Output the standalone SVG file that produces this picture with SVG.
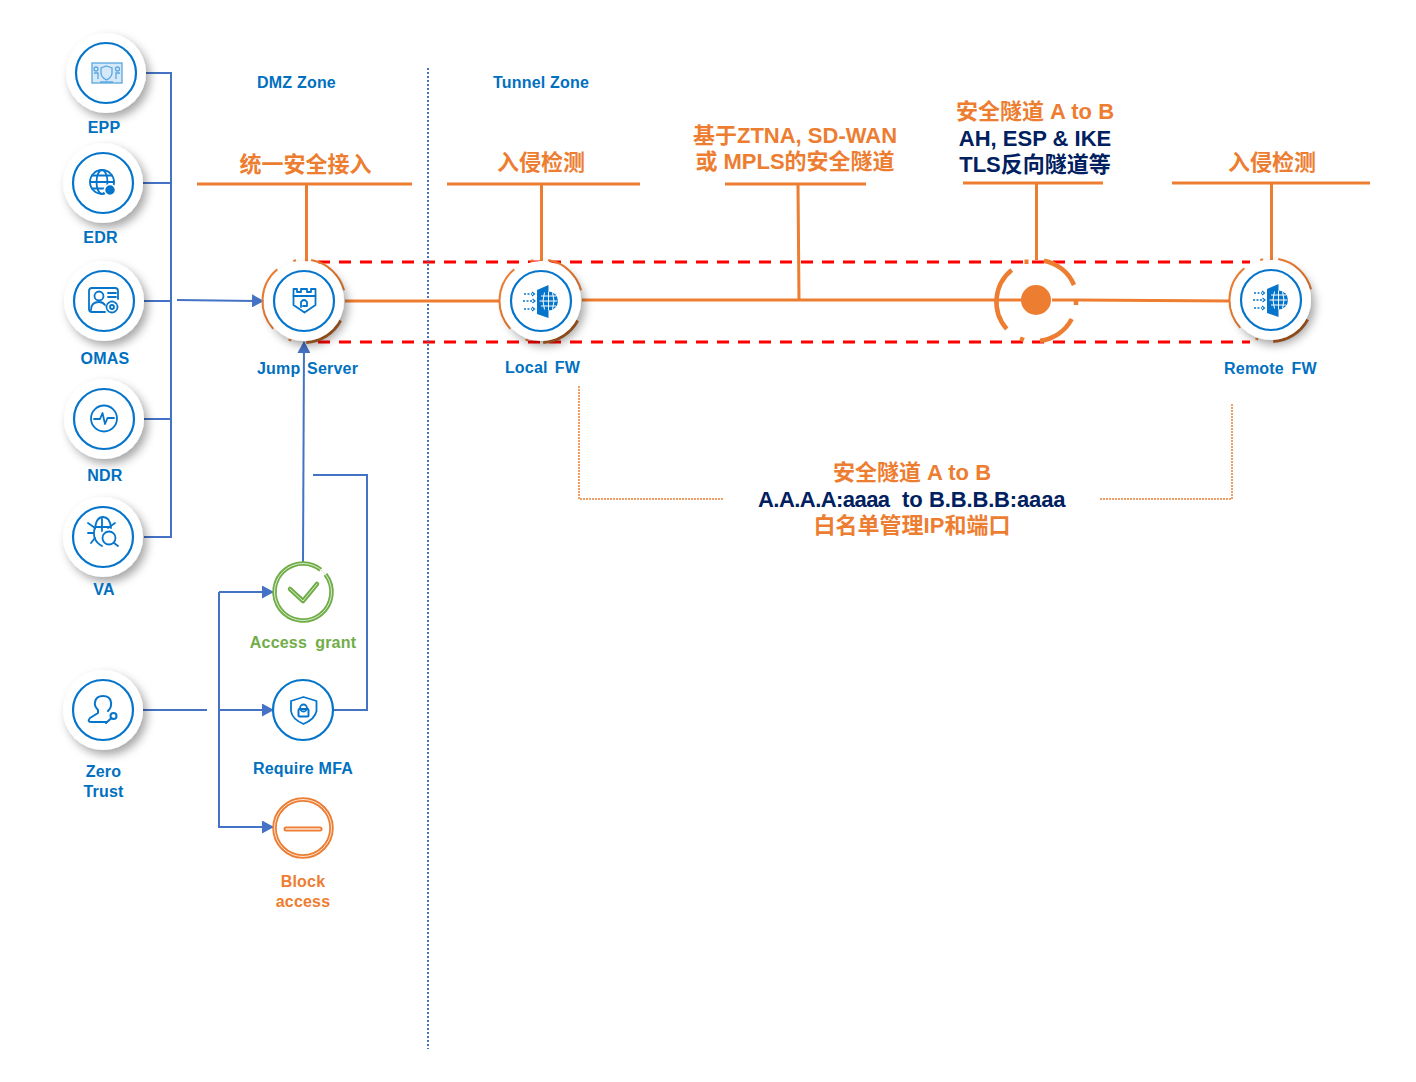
<svg xmlns="http://www.w3.org/2000/svg" width="1416" height="1082" viewBox="0 0 1416 1082">
<style>
text{font-family:"Liberation Sans","Noto Sans CJK SC",sans-serif;font-weight:700;text-anchor:middle}
.l{font-size:16px;fill:#0070C0;letter-spacing:.2px}
.o{fill:#ED7D31}
.n{fill:#002060}
.h{font-size:22px}
.w{fill:#fff;filter:url(#s)}
.r{fill:none;stroke:#0575CC;stroke-width:2.200}
.i{fill:none;stroke:#0575CC;stroke-width:1.800;stroke-linejoin:round;stroke-linecap:round}
.f{fill:#0575CC;stroke:none}
.b{fill:none;stroke:#4472C4;stroke-width:2}
.a{fill:none;stroke:#4472C4;stroke-width:2;marker-end:url(#m)}
.g{fill:none;stroke:#ED7D31;stroke-width:3}
.t{fill:none;stroke:#ED7D31;stroke-width:3}
.u{fill:none;stroke:#ED7D31;stroke-width:4.500}
.d{fill:none;stroke:#FF0000;stroke-width:3;stroke-dasharray:12 9}
.y{fill:none;stroke:#ED7D31;stroke-width:1.500;stroke-dasharray:2 1}
.c{fill:none;stroke:#ED7D31;stroke-width:2}
.e{fill:none;stroke:#C46A2A;stroke-width:3}
</style>
<defs>
<filter id="s" x="-30%" y="-30%" width="170%" height="170%"><feDropShadow dx="4" dy="5" stdDeviation="5" flood-color="#000" flood-opacity=".35"/></filter>
<marker id="m" markerUnits="userSpaceOnUse" markerWidth="12" markerHeight="13" refX="11" refY="6.500" orient="auto"><path d="M0 0L12 6.500L0 13Z" fill="#4472C4"/></marker>
<g id="ring">
<path class="c" d="M-26.700 -31.800A41.500 41.500 0 0 0 -30.800 27.800M-12.800 39.500L-15.500 38.500M-10.700 -40.100L-7.900 -40.700M7.200 -40.900A41.500 41.500 0 0 1 40.100 -10.700"/>
<path class="e" d="M36.600 19.500A41.500 41.500 0 0 1 2.200 41.400"/>
</g>
<g id="fw">
<path class="f" d="M-4 -11L7.500 -16V17L-4 13Z"/>
<circle cx="7.500" cy="0" r="9.500" class="f"/>
<path d="M-1.500 0H16.500M7.500 -9.500V9.500M0 -5H15M0 5H15M3.500 -8.500Q0.500 0 3.500 8.500M11.500 -8.500Q14.500 0 11.500 8.500" stroke="#fff" fill="none" stroke-width="1"/>
<path d="M-17 -7H-9M-18 0H-8M-17 8H-9" stroke="#0575CC" stroke-width="1.300" stroke-dasharray="2 1.500" fill="none"/>
<path d="M-9 -9L-6.500 -7L-9 -5M-8.500 -2L-6 0L-8.500 2M-9 6L-6.500 8L-9 10" stroke="#0575CC" fill="none" stroke-width="1.200"/>
</g>
</defs>

<g id="connectors">
<path class="b" d="M146 73H171V537H144M143 183H171M144 301H171M144 419H171"/>
<path class="a" d="M177 300L263 301"/>
<path class="a" d="M303 562L304 342"/>
<path class="b" d="M143 710H207"/>
<path class="b" d="M313 475H367V710H333"/>
<path class="a" d="M219 592H273"/>
<path class="a" d="M219 592V827H273"/>
<path class="a" d="M219 710H273"/>
<path class="d" d="M318 262H1250M318 342H1250"/>
<path d="M428 68V1049" fill="none" stroke="#4472C4" stroke-width="2" stroke-dasharray="2 2"/>
<path class="g" d="M345 301L500 301M582 300H1022M1052 300H1078L1230 301"/>
<path class="t" d="M197 184H412M447 184H640M725 184H866M963 183H1103M1172 183H1370"/>
<path class="g" d="M306.500 184V262M541.500 184V261M798 184L799 300M1036.500 183V260M1271.500 183V260"/>
<path class="y" d="M579 386V499H724M1100 499H1232V403"/>
</g>

<g id="epp"><circle class="w" cx="106" cy="73" r="40"/><circle class="r" cx="106" cy="73" r="30"/>
<g stroke="#5AA7E0" fill="none" stroke-width="1.300"><rect x="92" y="63" width="30" height="20" fill="#D6E9F8"/><path d="M106.500 66L112 68V73Q112 77 106.500 80Q101 77 101 73V68ZM100 82H113"/><circle cx="96" cy="69" r="2"/><circle cx="117.500" cy="69" r="2"/><path d="M94 73H98V79M116 79V73H120"/></g>
<text class="l" x="104" y="133">EPP</text></g>

<g id="edr"><circle class="w" cx="103" cy="183" r="40"/><circle class="r" cx="103" cy="183" r="30"/>
<g class="i"><circle cx="102" cy="182" r="12"/><ellipse cx="102" cy="182" rx="5.500" ry="12"/><path d="M90 182H114M92 175.500H112M92 188.500H112"/></g>
<circle class="f" cx="110" cy="190" r="5.500" style="stroke:#fff;stroke-width:1.500"/>
<text class="l" x="100.500" y="243">EDR</text></g>

<g id="omas"><circle class="w" cx="104" cy="301" r="40"/><circle class="r" cx="104" cy="301" r="30"/>
<g class="i"><path d="M105 312H92Q89 312 89 309V291Q89 288 92 288H115Q118 288 118 291V299"/><circle cx="99" cy="296" r="4.500"/><path d="M91 310Q91 302 99 302Q103 302 105 305M108 293H116M108 297H116"/><circle cx="112" cy="307" r="5.500" stroke-dasharray="2.500 1.500"/><circle cx="112" cy="307" r="2"/></g>
<text class="l" x="105" y="364">OMAS</text></g>

<g id="ndr"><circle class="w" cx="104" cy="419" r="40"/><circle class="r" cx="104" cy="419" r="30"/>
<circle class="i" cx="104" cy="418.500" r="13"/><path class="i" d="M94 419H100L102.500 413L105 424L107.500 418H114"/>
<text class="l" x="105" y="481">NDR</text></g>

<g id="va"><circle class="w" cx="103" cy="537" r="40"/><circle class="r" cx="103" cy="537" r="30"/>
<g class="i"><path d="M95 529Q96 517 103 517Q110 517 111 528M95 527H111M102 519V531M95 527Q91 540 102 546"/><circle cx="109" cy="538" r="6.500"/><path d="M114 543L118 546M88 523L95 528M115 523L108 528M88 533H93M91 543L95 538"/></g>
<text class="l" x="104" y="595">VA</text></g>

<g id="zero-trust"><circle class="w" cx="103" cy="710" r="40"/><circle class="r" cx="103" cy="710" r="30"/>
<g class="i" style="stroke-width:2"><path d="M106 722H91Q87 722 90 718L98 713V710Q94 706 95 702Q96 696 103 696Q110 696 111 702Q112 707 108 711"/><circle cx="113.500" cy="716" r="3"/><path d="M111.500 718L106 723"/></g>
<text class="l" x="103.500" y="777">Zero</text><text class="l" x="103.500" y="797">Trust</text></g>

<g id="jump-server"><use href="#ring" x="304" y="301"/><circle class="w" cx="304" cy="301" r="40"/><circle class="r" cx="304" cy="301" r="30"/>
<g class="i"><path d="M293.500 289H297V292H301V289H307V292H311V289H315.500V305L304.500 312.500L293.500 305Z"/><path d="M293.500 296H315.500M301 307V302Q304 298 307 302V306H303"/></g>
<text class="l" x="307.500" y="374" style="word-spacing:2px">Jump Server</text></g>

<g id="local-fw"><use href="#ring" x="541" y="301"/><circle class="w" cx="541" cy="301" r="40"/><circle class="r" cx="541" cy="301" r="30"/>
<use href="#fw" x="541" y="301"/>
<text class="l" x="542.500" y="373" style="word-spacing:2.500px">Local FW</text></g>

<g id="tunnel-node">
<path class="u" d="M1011.700 270A41 41 0 0 0 1006.700 329"/>
<path class="u" d="M1044 260.700A41 41 0 0 1 1074 285"/>
<path class="u" d="M1071.700 319A41 41 0 0 1 1040 340.700"/>
<path class="u" d="M1024.500 261.700H1028.500M1020 338.500L1024 340M1076 301V305"/>
<circle cx="1036" cy="300" r="15" fill="#ED7D31"/></g>

<g id="remote-fw"><use href="#ring" x="1271" y="300"/><circle class="w" cx="1271" cy="300" r="40"/><circle class="r" cx="1271" cy="300" r="30"/>
<use href="#fw" x="1271" y="300"/>
<text class="l" x="1270.500" y="374" style="word-spacing:3px">Remote FW</text></g>

<g id="access-grant"><circle cx="303" cy="592" r="30" fill="#fff"/><circle cx="303" cy="592" r="28.500" fill="none" stroke="#70AD47" stroke-width="4.500" stroke-dasharray="172 7" transform="rotate(-38 303 592)"/><circle cx="303" cy="592" r="28.500" fill="none" stroke="#DCEBD2" stroke-width="1"/>
<path d="M290 589L303 601L317 584" fill="none" stroke="#70AD47" stroke-width="4.500" stroke-linecap="round" stroke-linejoin="round"/>
<path d="M290 589L303 601L317 584" fill="none" stroke="#DCEBD2" stroke-width="1" stroke-linecap="round" stroke-linejoin="round"/>
<text class="l" x="303" y="648" style="fill:#70AD47;word-spacing:3.500px">Access grant</text></g>

<g id="require-mfa"><circle cx="303" cy="710" r="30" fill="#fff" stroke="#0575CC" stroke-width="2.200"/>
<g class="i"><path d="M303.500 697L316.500 701V711Q315 719 303.500 724Q292 719 291 711V701Z"/><circle cx="303.500" cy="708" r="3.500"/><rect x="298.500" y="709" width="10" height="7.500" rx="1" style="stroke-width:2"/></g>
<text class="l" x="303" y="774">Require MFA</text></g>

<g id="block-access"><circle cx="303" cy="828" r="30" fill="#fff"/><circle cx="303" cy="828" r="28.500" fill="none" stroke="#ED7D31" stroke-width="4.500"/><circle cx="303" cy="828" r="28.500" fill="none" stroke="#FBE5D6" stroke-width="1"/>
<path d="M286 829H320" stroke="#ED7D31" stroke-width="5" stroke-linecap="round"/>
<path d="M286 829H320" stroke="#FBE5D6" stroke-width="1.300" stroke-linecap="round"/>
<text class="l" x="303" y="887" style="fill:#ED7D31">Block</text><text class="l" x="303" y="907" style="fill:#ED7D31">access</text></g>

<g id="labels">
<text class="l" x="296.500" y="88">DMZ Zone</text>
<text class="l" x="541" y="88">Tunnel Zone</text>
<text class="h o" x="305.500" y="172">统一安全接入</text>
<text class="h o" x="541" y="170">入侵检测</text>
<text class="h o" x="795" y="143">基于ZTNA, SD-WAN</text>
<text class="h o" x="795" y="169">或 MPLS的安全隧道</text>
<text class="h o" x="1035" y="119">安全隧道 A to B</text>
<text class="h n" x="1035" y="146">AH, ESP &amp; IKE</text>
<text class="h n" x="1035" y="172">TLS反向隧道等</text>
<text class="h o" x="1272" y="170">入侵检测</text>
<text class="h o" x="912" y="480">安全隧道 A to B</text>
<text class="h n" y="507" style="text-anchor:start"><tspan x="758" letter-spacing="-.55">A.A.A.A:aaaa</tspan> <tspan x="902">to</tspan> <tspan x="929" letter-spacing="-.15">B.B.B.B:aaaa</tspan></text>
<text class="h o" x="912" y="533">白名单管理IP和端口</text>
</g>
</svg>
